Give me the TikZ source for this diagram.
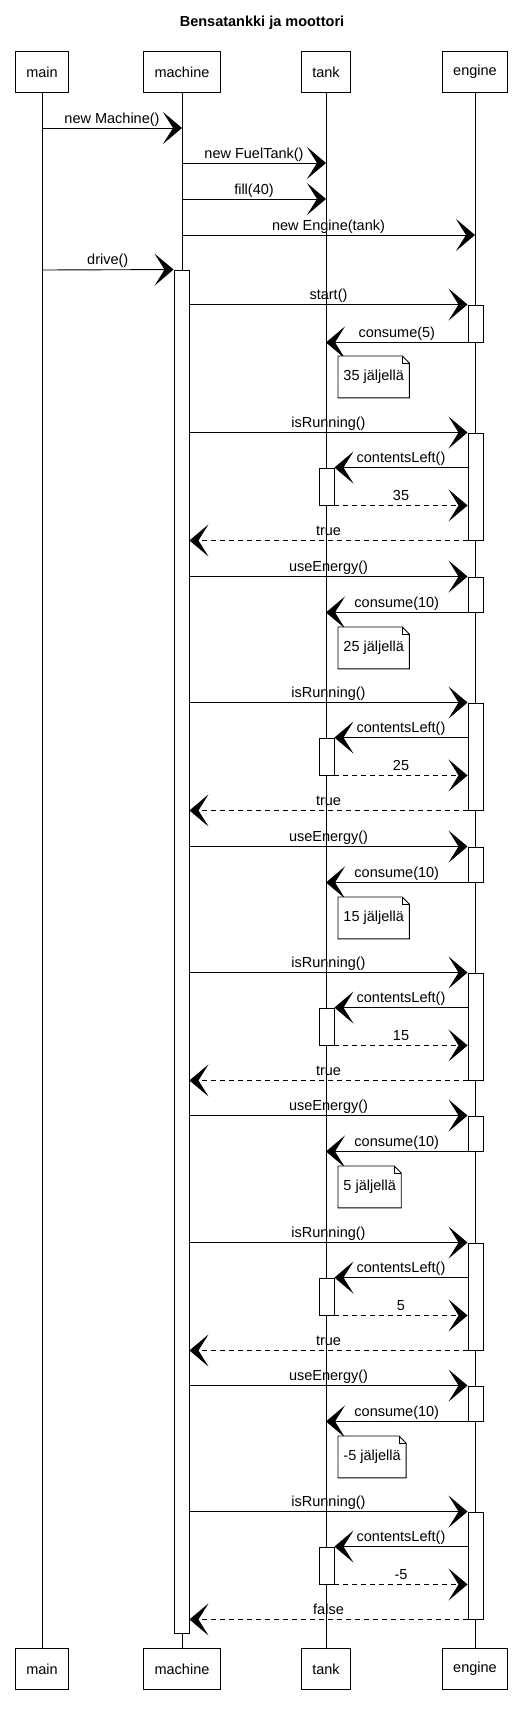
\documentclass[tikz,border=0pt]{standalone}
\usepackage{fontspec}
\setmainfont{Liberation Sans}
\usetikzlibrary{arrows.meta}
\newcommand{\dogear}[1]{%
  \draw (#1.north west) -- ([xshift=-7pt]#1.north east) -- ([yshift=-7pt]#1.north east) -- (#1.south east) -- (#1.south west) -- cycle;
  \draw ([xshift=-7pt]#1.north east) |- ([yshift=-7pt]#1.north east);}

\begin{document}
\begin{tikzpicture}[x=1pt,y=-1pt,font=\fontsize{14.5}{17}\selectfont]
    \tikzstyle{every path}=[line width=0.9pt]
    \tikzstyle{participant}=[draw, fill=white, minimum height=41pt, inner xsep=11pt]
    \tikzstyle{activation}=[draw, fill=white, minimum width=15pt, inner sep=0pt]
    \tikzstyle{msg}=[-{Stealth[length=19pt,width=32pt,inset=10pt]}]
    \tikzstyle{reply}=[msg, dash pattern=on 5pt off 4pt]
    \tikzstyle{lbl}=[midway, anchor=base, yshift=5pt, inner sep=0pt]
    \tikzstyle{note}=[fill=white, anchor=north west, minimum height=41pt, inner xsep=5pt]

    \useasboundingbox (0,0) rectangle (524,1713);

    % title
    \node[font=\fontsize{14.5}{17}\selectfont\bfseries, anchor=base] (title) at (262,27) {Bensatankki ja moottori};

    % participants
    \node[participant] (main) at (42,72) {main};
    \node[participant] (machine) at (182,72) {machine};
    \node[participant] (tank) at (326,72) {tank};
    \node[participant] (engine) at (475,72) {engine};
    \node[participant] (mainb) at (42,1669) {main};
    \node[participant] (machineb) at (182,1669) {machine};
    \node[participant] (tankb) at (326,1669) {tank};
    \node[participant] (engineb) at (475,1669) {engine};

    % lifelines
    \draw (main.south) -- (mainb.north);
    \draw (machine.south) -- (machineb.north);
    \draw (tank.south) -- (tankb.north);
    \draw (engine.south) -- (engineb.north);

    % setup
    \coordinate (y1) at (0,128);
    \coordinate (y2) at (0,163);
    \coordinate (y3) at (0,199);
    \coordinate (y4) at (0,235);
    \coordinate (y5) at (0,270);
    \draw[msg] (main |- y1) -- node[lbl] {new Machine()} (machine |- y1);
    \draw[msg] (machine |- y2) -- node[lbl] {new FuelTank()} (tank |- y2);
    \draw[msg] (machine |- y3) -- node[lbl] {fill(40)} (tank |- y3);
    \draw[msg] (machine |- y4) -- node[lbl] {new Engine(tank)} (engine |- y4);

    % drive
    \node[activation, minimum height=1363pt] (mact) at (181.5,951.5) {};
    \draw[msg] (main |- y5) -- node[lbl] {drive()} (mact.north west);

    % start
    \node[activation, minimum height=37pt] (eng0) at (475.5,323.5) {};
    \draw[msg] (mact.east |- eng0.north) -- node[lbl] {start()} (eng0.north west);
    \draw[msg] (eng0.south west) -- node[lbl] {consume(5)} (tank |- eng0.south);
    \node[note] (left0) at (338,356) {35 jäljellä};
    \dogear{left0}

    % first isRunning
    \node[activation, minimum height=107pt] (eng1) at (475.5,486.5) {};
    \node[activation, minimum height=37pt] (tnk1) at (326.5,486.5) {};
    \draw[msg] (mact.east |- eng1.north) -- node[lbl] {isRunning()} (eng1.north west);
    \draw[msg] (eng1.west |- tnk1.north) -- node[lbl] {contentsLeft()} (tnk1.north east);
    \draw[reply] (tnk1.south east) -- node[lbl] {35} (eng1.west |- tnk1.south);
    \draw[reply] (eng1.south west) -- node[lbl] {true} (mact.east |- eng1.south);
    % first useEnergy
    \node[activation, minimum height=35pt] (use1) at (475.5,594.5) {};
    \draw[msg] (mact.east |- use1.north) -- node[lbl] {useEnergy()} (use1.north west);
    \draw[msg] (use1.south west) -- node[lbl] {consume(10)} (tank |- use1.south);
    \node[note] (left1) at (338,627) {25 jäljellä};
    \dogear{left1}

    % second isRunning
    \node[activation, minimum height=107pt] (eng2) at (475.5,756.5) {};
    \node[activation, minimum height=37pt] (tnk2) at (326.5,756.5) {};
    \draw[msg] (mact.east |- eng2.north) -- node[lbl] {isRunning()} (eng2.north west);
    \draw[msg] (eng2.west |- tnk2.north) -- node[lbl] {contentsLeft()} (tnk2.north east);
    \draw[reply] (tnk2.south east) -- node[lbl] {25} (eng2.west |- tnk2.south);
    \draw[reply] (eng2.south west) -- node[lbl] {true} (mact.east |- eng2.south);
    % second useEnergy
    \node[activation, minimum height=35pt] (use2) at (475.5,864.5) {};
    \draw[msg] (mact.east |- use2.north) -- node[lbl] {useEnergy()} (use2.north west);
    \draw[msg] (use2.south west) -- node[lbl] {consume(10)} (tank |- use2.south);
    \node[note] (left2) at (338,897) {15 jäljellä};
    \dogear{left2}

    % third isRunning
    \node[activation, minimum height=107pt] (eng3) at (475.5,1026.5) {};
    \node[activation, minimum height=37pt] (tnk3) at (326.5,1026.5) {};
    \draw[msg] (mact.east |- eng3.north) -- node[lbl] {isRunning()} (eng3.north west);
    \draw[msg] (eng3.west |- tnk3.north) -- node[lbl] {contentsLeft()} (tnk3.north east);
    \draw[reply] (tnk3.south east) -- node[lbl] {15} (eng3.west |- tnk3.south);
    \draw[reply] (eng3.south west) -- node[lbl] {true} (mact.east |- eng3.south);
    % third useEnergy
    \node[activation, minimum height=35pt] (use3) at (475.5,1133.5) {};
    \draw[msg] (mact.east |- use3.north) -- node[lbl] {useEnergy()} (use3.north west);
    \draw[msg] (use3.south west) -- node[lbl] {consume(10)} (tank |- use3.south);
    \node[note] (left3) at (338,1166) {5 jäljellä};
    \dogear{left3}

    % fourth isRunning
    \node[activation, minimum height=107pt] (eng4) at (475.5,1296.5) {};
    \node[activation, minimum height=37pt] (tnk4) at (326.5,1296.5) {};
    \draw[msg] (mact.east |- eng4.north) -- node[lbl] {isRunning()} (eng4.north west);
    \draw[msg] (eng4.west |- tnk4.north) -- node[lbl] {contentsLeft()} (tnk4.north east);
    \draw[reply] (tnk4.south east) -- node[lbl] {5} (eng4.west |- tnk4.south);
    \draw[reply] (eng4.south west) -- node[lbl] {true} (mact.east |- eng4.south);
    % fourth useEnergy
    \node[activation, minimum height=35pt] (use4) at (475.5,1403.5) {};
    \draw[msg] (mact.east |- use4.north) -- node[lbl] {useEnergy()} (use4.north west);
    \draw[msg] (use4.south west) -- node[lbl] {consume(10)} (tank |- use4.south);
    \node[note] (left4) at (338,1436) {-5 jäljellä};
    \dogear{left4}

    % last isRunning
    \node[activation, minimum height=107pt] (eng5) at (475.5,1565.5) {};
    \node[activation, minimum height=37pt] (tnk5) at (326.5,1565.5) {};
    \draw[msg] (mact.east |- eng5.north) -- node[lbl] {isRunning()} (eng5.north west);
    \draw[msg] (eng5.west |- tnk5.north) -- node[lbl] {contentsLeft()} (tnk5.north east);
    \draw[reply] (tnk5.south east) -- node[lbl] {-5} (eng5.west |- tnk5.south);
    \draw[reply] (eng5.south west) -- node[lbl] {false} (mact.east |- eng5.south);

\end{tikzpicture}
\end{document}
